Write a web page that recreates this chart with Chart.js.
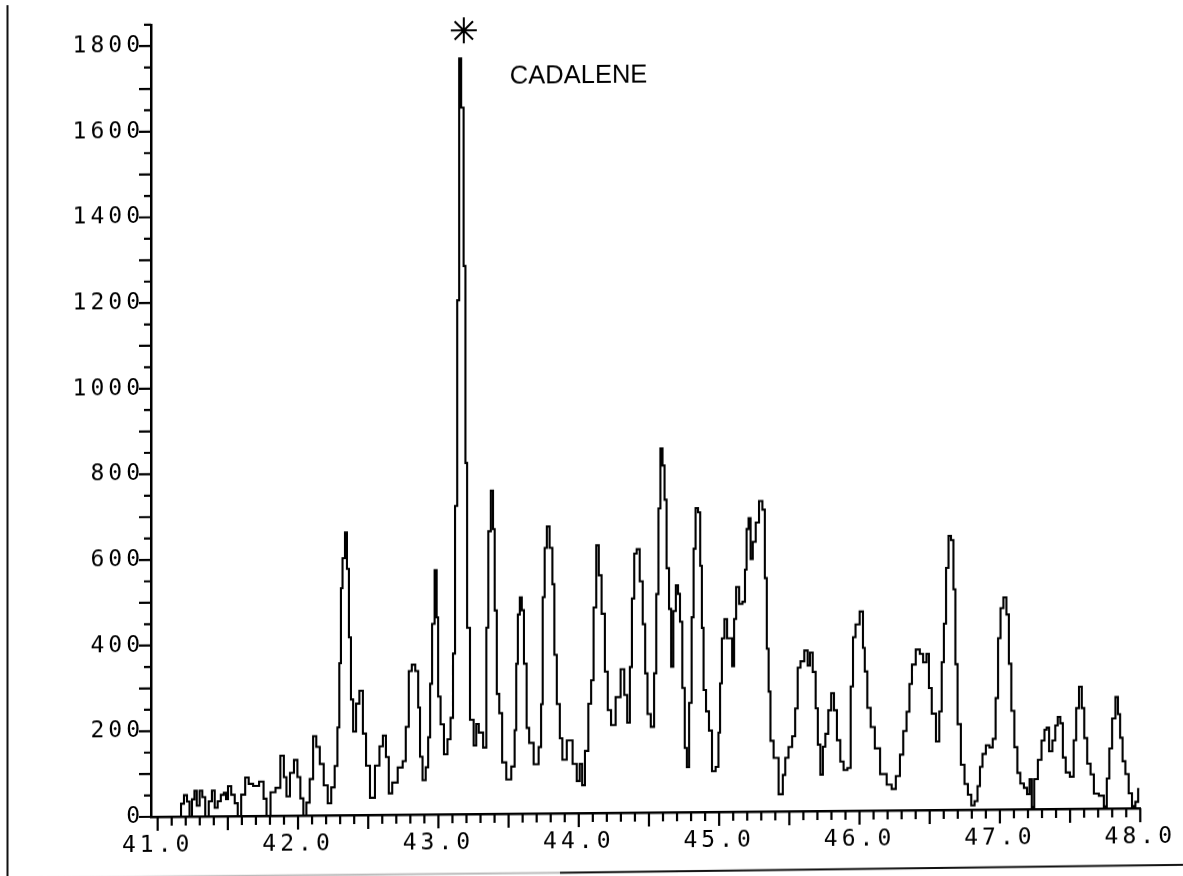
<!DOCTYPE html>
<html>
<head>
<meta charset="utf-8">
<script src="https://cdn.jsdelivr.net/npm/chart.js@4.4.1/dist/chart.umd.min.js"></script>
<style>
html,body{margin:0;padding:0;background:#fff;overflow:hidden;width:1183px;height:876px}
#wrap{position:absolute;left:0;top:0;width:1183px;height:876px;transform:skewY(-0.5deg);transform-origin:591.5px 438px}
canvas{display:block}
</style>
</head>
<body>
<div id="wrap"><canvas id="c" width="1183" height="876"></canvas></div>
<script>
// retention time (min)
const retentionTimes = [
41.000,41.156,41.177,41.198,41.220,41.234,41.255,41.269,41.288,41.310,41.326,41.352,41.376,41.397,41.416,41.439,41.461,41.482,41.492,41.510,
41.538,41.560,41.581,41.609,41.638,41.659,41.701,41.744,41.765,41.786,41.822,41.857,41.891,41.907,41.928,41.957,41.985,42.006,42.027,42.049,
42.070,42.096,42.119,42.141,42.169,42.197,42.226,42.247,42.275,42.286,42.302,42.309,42.325,42.344,42.353,42.372,42.382,42.403,42.424,42.450,
42.474,42.495,42.530,42.566,42.594,42.615,42.637,42.656,42.686,42.734,42.757,42.778,42.800,42.821,42.849,42.863,42.875,42.899,42.920,42.934,
42.948,42.962,42.984,42.991,43.005,43.026,43.053,43.076,43.097,43.111,43.126,43.142,43.154,43.170,43.189,43.196,43.213,43.237,43.265,43.274,
43.301,43.336,43.347,43.364,43.383,43.395,43.407,43.425,43.442,43.466,43.501,43.537,43.549,43.560,43.572,43.588,43.600,43.619,43.638,43.655,
43.702,43.726,43.737,43.749,43.765,43.780,43.804,43.820,43.832,43.855,43.875,43.891,43.938,43.974,43.997,44.016,44.032,44.056,44.080,44.096,
44.115,44.134,44.151,44.174,44.198,44.215,44.245,44.280,44.316,44.332,44.358,44.370,44.387,44.403,44.422,44.446,44.465,44.481,44.498,44.528,
44.545,44.559,44.576,44.587,44.606,44.616,44.635,44.651,44.665,44.682,44.701,44.713,44.729,44.746,44.764,44.776,44.796,44.812,44.824,44.840,
44.859,44.871,44.883,44.895,44.918,44.937,44.961,44.989,45.001,45.012,45.027,45.048,45.065,45.083,45.102,45.111,45.131,45.154,45.178,45.190,
45.201,45.218,45.230,45.249,45.272,45.296,45.320,45.331,45.348,45.357,45.374,45.402,45.445,45.462,45.480,45.508,45.532,45.551,45.568,45.591,
45.622,45.639,45.655,45.678,45.697,45.709,45.733,45.745,45.768,45.787,45.809,45.827,45.851,45.875,45.898,45.929,45.945,45.962,45.981,46.021,
46.028,46.047,46.064,46.095,46.123,46.170,46.217,46.241,46.276,46.300,46.323,46.347,46.364,46.383,46.418,46.441,46.465,46.489,46.500,46.529,
46.560,46.576,46.595,46.607,46.626,46.642,46.661,46.677,46.689,46.708,46.736,46.760,46.784,46.808,46.831,46.850,46.866,46.886,46.914,46.937,
46.961,46.978,46.996,47.013,47.037,47.056,47.072,47.091,47.115,47.134,47.157,47.185,47.202,47.221,47.233,47.256,47.285,47.308,47.327,47.339,
47.362,47.386,47.403,47.421,47.440,47.457,47.481,47.516,47.535,47.552,47.575,47.592,47.610,47.634,47.658,47.681,47.729,47.752,47.771,47.788,
47.811,47.835,47.847,47.866,47.882,47.906,47.929,47.953,47.977,47.993
];
// abundance
const abundance = [
0,0,30,50,35,0,40,60,25,60,45,0,35,60,20,35,50,55,40,70,
50,30,0,50,90,75,70,80,40,0,55,65,140,90,45,100,130,90,40,0,
30,85,185,160,120,70,28,65,115,205,355,530,600,660,575,415,270,195,260,290,
190,115,40,115,160,185,135,50,75,110,125,205,335,350,335,250,135,80,110,180,
305,445,570,460,275,210,140,175,225,375,720,1200,1765,1650,1280,820,435,220,160,210,
190,155,435,660,755,665,475,280,235,120,80,110,195,350,465,505,475,350,200,165,
115,155,255,505,620,670,620,535,370,255,175,125,170,115,75,115,65,145,255,310,
480,625,555,465,330,240,205,270,335,275,210,340,500,605,615,540,440,325,230,200,
325,510,710,850,810,730,570,475,340,470,530,510,445,290,150,105,255,455,615,710,
700,575,430,285,235,190,95,105,185,300,405,450,405,405,340,450,525,485,490,565,
660,685,590,630,675,725,705,545,380,280,165,125,40,85,125,150,175,240,335,350,
375,340,370,325,240,155,85,150,180,235,275,235,165,115,95,100,290,405,435,465,
380,325,240,195,145,85,60,50,80,130,185,230,295,340,375,365,345,365,285,225,
160,230,345,435,565,640,630,515,340,200,105,60,35,10,20,55,100,130,150,145,
165,260,400,470,495,455,340,230,145,85,60,50,35,70,5,70,115,160,185,190,
135,160,195,215,200,120,85,75,160,235,285,235,165,105,80,35,30,5,70,140,
210,260,220,165,110,80,35,5,15,45
];
const xTickLabels = ['41.0','42.0','43.0','44.0','45.0','46.0','47.0','48.0'];
const yTickLabels = ['0','200','400','600','800','1000','1200','1400','1600','1800'];
const xMinorStep = 0.1;
const yMinorStep = 50;
const peakName = 'CADALENE';
const peakMarkerTime = [43.181];
const peakMarkerLevel = [1830];
const peakNameTime = 43.509;
const peakNameLevel = 1722;

const xTickValues = xTickLabels.map(Number);
const yTickValues = yTickLabels.map(Number);
const X_MIN = 40.9525, X_MAX = 48.0, Y_MIN = 0, Y_MAX = 1850;

const plotter = {
  id: 'plotter',
  beforeDraw(chart) { chart.ctx.letterSpacing = '4px'; },
  afterDraw(chart) {
    const ctx = chart.ctx, xs = chart.scales.x, ys = chart.scales.y;
    ctx.save();
    ctx.letterSpacing = '0px';
    ctx.strokeStyle = '#000';
    ctx.lineWidth = 2.2;
    ctx.lineCap = 'butt';
    const base = ys.getPixelForValue(0);
    const axisX = chart.chartArea.left;
    ctx.beginPath();
    const nx = Math.round((X_MAX - xTickValues[0]) / xMinorStep);
    for (let i = 0; i <= nx; i++) {
      const v = xTickValues[0] + i * xMinorStep;
      const px = xs.getPixelForValue(v);
      const len = (i % 5 === 0) ? 14 : 9;
      ctx.moveTo(px, base); ctx.lineTo(px, base + len);
    }
    const ny = Math.round(Y_MAX / yMinorStep);
    for (let i = 0; i <= ny; i++) {
      const v = i * yMinorStep;
      const py = ys.getPixelForValue(v);
      const len = (v % 100 === 0) ? 12 : 7;
      ctx.moveTo(axisX - len, py); ctx.lineTo(axisX, py);
    }
    ctx.stroke();
    // compound label
    ctx.fillStyle = '#000';
    ctx.font = '25.5px "Liberation Sans", Arial, sans-serif';
    ctx.textAlign = 'left';
    ctx.textBaseline = 'middle';
    ctx.fillText(peakName, xs.getPixelForValue(peakNameTime), ys.getPixelForValue(peakNameLevel));
    // scanned page frame
    ctx.lineWidth = 2;
    ctx.strokeStyle = '#111';
    ctx.beginPath(); ctx.moveTo(7.5, 0); ctx.lineTo(7.5, 876); ctx.stroke();
    ctx.strokeStyle = '#bbb';
    ctx.beginPath(); ctx.moveTo(8, 873); ctx.lineTo(560, 872.5); ctx.stroke();
    ctx.strokeStyle = '#111';
    ctx.beginPath(); ctx.moveTo(560, 872.5); ctx.lineTo(1183, 870); ctx.stroke();
    ctx.restore();
  }
};

const monoFont = { family: '"DejaVu Sans Mono", "Liberation Mono", monospace', size: 23 };

new Chart(document.getElementById('c'), {
  type: 'line',
  data: {
    datasets: [
      {
        label: 'TIC',
        data: retentionTimes.map((t, i) => ({ x: t, y: abundance[i] })),
        borderColor: '#000',
        borderWidth: 2.1,
        pointRadius: 0,
        fill: false,
        tension: 0,
        stepped: 'middle'
      },
      {
        label: 'marker',
        data: peakMarkerTime.map((t, i) => ({ x: t, y: peakMarkerLevel[i] })),
        showLine: false,
        pointStyle: 'star',
        pointRadius: 13,
        pointBorderWidth: 2,
        pointBorderColor: '#000',
        borderColor: '#000',
        clip: false
      }
    ]
  },
  options: {
    responsive: false,
    devicePixelRatio: 1,
    animation: false,
    events: [],
    layout: { padding: { left: 0, right: 37.5, top: 15.6, bottom: 0 } },
    plugins: { legend: { display: false }, tooltip: { enabled: false } },
    scales: {
      x: {
        type: 'linear', min: X_MIN, max: X_MAX,
        afterBuildTicks: s => { s.ticks = xTickValues.map(v => ({ value: v })); },
        afterFit: s => { s.height = 63; },
        ticks: {
          callback: v => Number(v).toFixed(1),
          font: monoFont, color: '#000', padding: 15,
          maxRotation: 0, minRotation: 0, autoSkip: false
        },
        grid: { display: false, drawTicks: false },
        border: { display: true, color: '#000', width: 2.5 }
      },
      y: {
        type: 'linear', min: Y_MIN, max: Y_MAX,
        afterBuildTicks: s => { s.ticks = yTickValues.map(v => ({ value: v })); },
        afterFit: s => { s.width = 151; },
        ticks: {
          callback: v => String(v),
          font: monoFont, color: '#000', padding: 7, autoSkip: false
        },
        grid: { display: false, drawTicks: false },
        border: { display: true, color: '#000', width: 2.5 }
      }
    }
  },
  plugins: [plotter]
});
</script>
</body>
</html>
